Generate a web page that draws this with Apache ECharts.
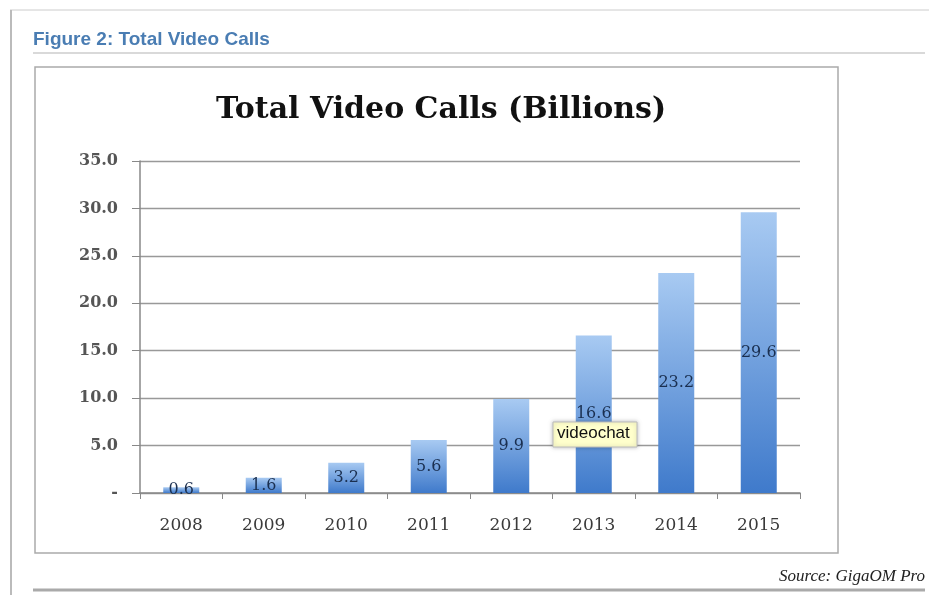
<!DOCTYPE html>
<html>
<head>
<meta charset="utf-8">
<script src="https://cdn.jsdelivr.net/npm/echarts@6/dist/echarts.min.js"></script>
<style>
  html, body { margin: 0; padding: 0; background: #fff; }
  #chart { width: 929px; height: 595px; }
</style>
</head>
<body>
<div id="chart"></div>
<script>
// data
var years = ['2008', '2009', '2010', '2011', '2012', '2013', '2014', '2015'];
var videoCalls = [0.6, 1.6, 3.2, 5.6, 9.9, 16.6, 23.2, 29.6];

var myChart = echarts.init(document.getElementById('chart'));

var serif = '"DejaVu Serif", "Liberation Serif", serif';

option = {
  backgroundColor: '#fff',
  animation: false,
  title: {
    text: 'Total Video Calls (Billions)',
    left: 436,
    top: 90,
    textAlign: 'center',
    textStyle: { fontFamily: serif, fontWeight: 'bold', fontSize: 30, color: '#111' }
  },
  grid: { left: 140, right: 129, top: 161, bottom: 102 },
  xAxis: {
    type: 'category',
    data: years,
    axisLine: { lineStyle: { color: '#888', width: 1.5 } },
    axisTick: { show: true, length: 6, lineStyle: { color: '#888' } },
    axisLabel: { fontFamily: serif, fontSize: 17, color: '#3a3a3a', margin: 24 }
  },
  yAxis: {
    type: 'value',
    min: 0,
    max: 35,
    interval: 5,
    axisLine: { show: true, lineStyle: { color: '#888', width: 1.5 } },
    axisTick: { show: true, length: 8, lineStyle: { color: '#888' } },
    splitLine: { lineStyle: { color: '#999', width: 1.3 } },
    axisLabel: {
      fontFamily: serif, fontSize: 16, fontWeight: 'bold', color: '#555', margin: 22,
      formatter: function (v) { return v == 0 ? '-' : v.toFixed(1); }
    }
  },
  series: [{
    type: 'bar',
    data: videoCalls,
    barWidth: 36,
    itemStyle: {
      color: new echarts.graphic.LinearGradient(0, 0, 0, 1, [
        { offset: 0, color: '#a8caf2' },
        { offset: 1, color: '#3f7acb' }
      ])
    },
    label: {
      show: true,
      position: 'inside',
      fontFamily: serif, fontSize: 16, color: '#1a2f50',
      formatter: function (p) { return p.value.toFixed(1); }
    }
  }],
  graphic: [
    // page frame lines
    { type: 'line', shape: { x1: 10, y1: 10, x2: 929, y2: 10 }, style: { stroke: '#ccc', lineWidth: 1 } },
    { type: 'line', shape: { x1: 11, y1: 10, x2: 11, y2: 595 }, style: { stroke: '#bbb', lineWidth: 2 } },
    { type: 'text', left: 33, top: 30,
      style: { text: 'Figure 2: Total Video Calls', font: 'bold 19px "Liberation Sans", Arial, sans-serif', fill: '#4a7db3' } },
    { type: 'line', shape: { x1: 33, y1: 53, x2: 925, y2: 53 }, style: { stroke: '#ccc', lineWidth: 1.5 } },
    // chart box
    { type: 'rect', shape: { x: 35, y: 67, width: 803, height: 486 }, style: { fill: 'none', stroke: '#aaa', lineWidth: 1.5 }, z: -1 },
    // tooltip overlay
    { type: 'rect', shape: { x: 553, y: 422, width: 84, height: 25 }, style: { fill: '#ffffcc', stroke: '#bbb', lineWidth: 1, shadowBlur: 4, shadowColor: 'rgba(0,0,0,0.25)' }, z: 10 },
    { type: 'text', x: 557, y: 425, z: 11,
      style: { text: 'videochat', font: '17px "Liberation Sans", Arial, sans-serif', fill: '#111' } },
    // source
    { type: 'text', right: 4, top: 568,
      style: { text: 'Source: GigaOM Pro', font: 'italic 17px "Liberation Serif", serif', fill: '#222' } },
    { type: 'line', shape: { x1: 33, y1: 590, x2: 925, y2: 590 }, style: { stroke: '#aaa', lineWidth: 3 } }
  ]
};
myChart.setOption(option);
</script>
</body>
</html>
